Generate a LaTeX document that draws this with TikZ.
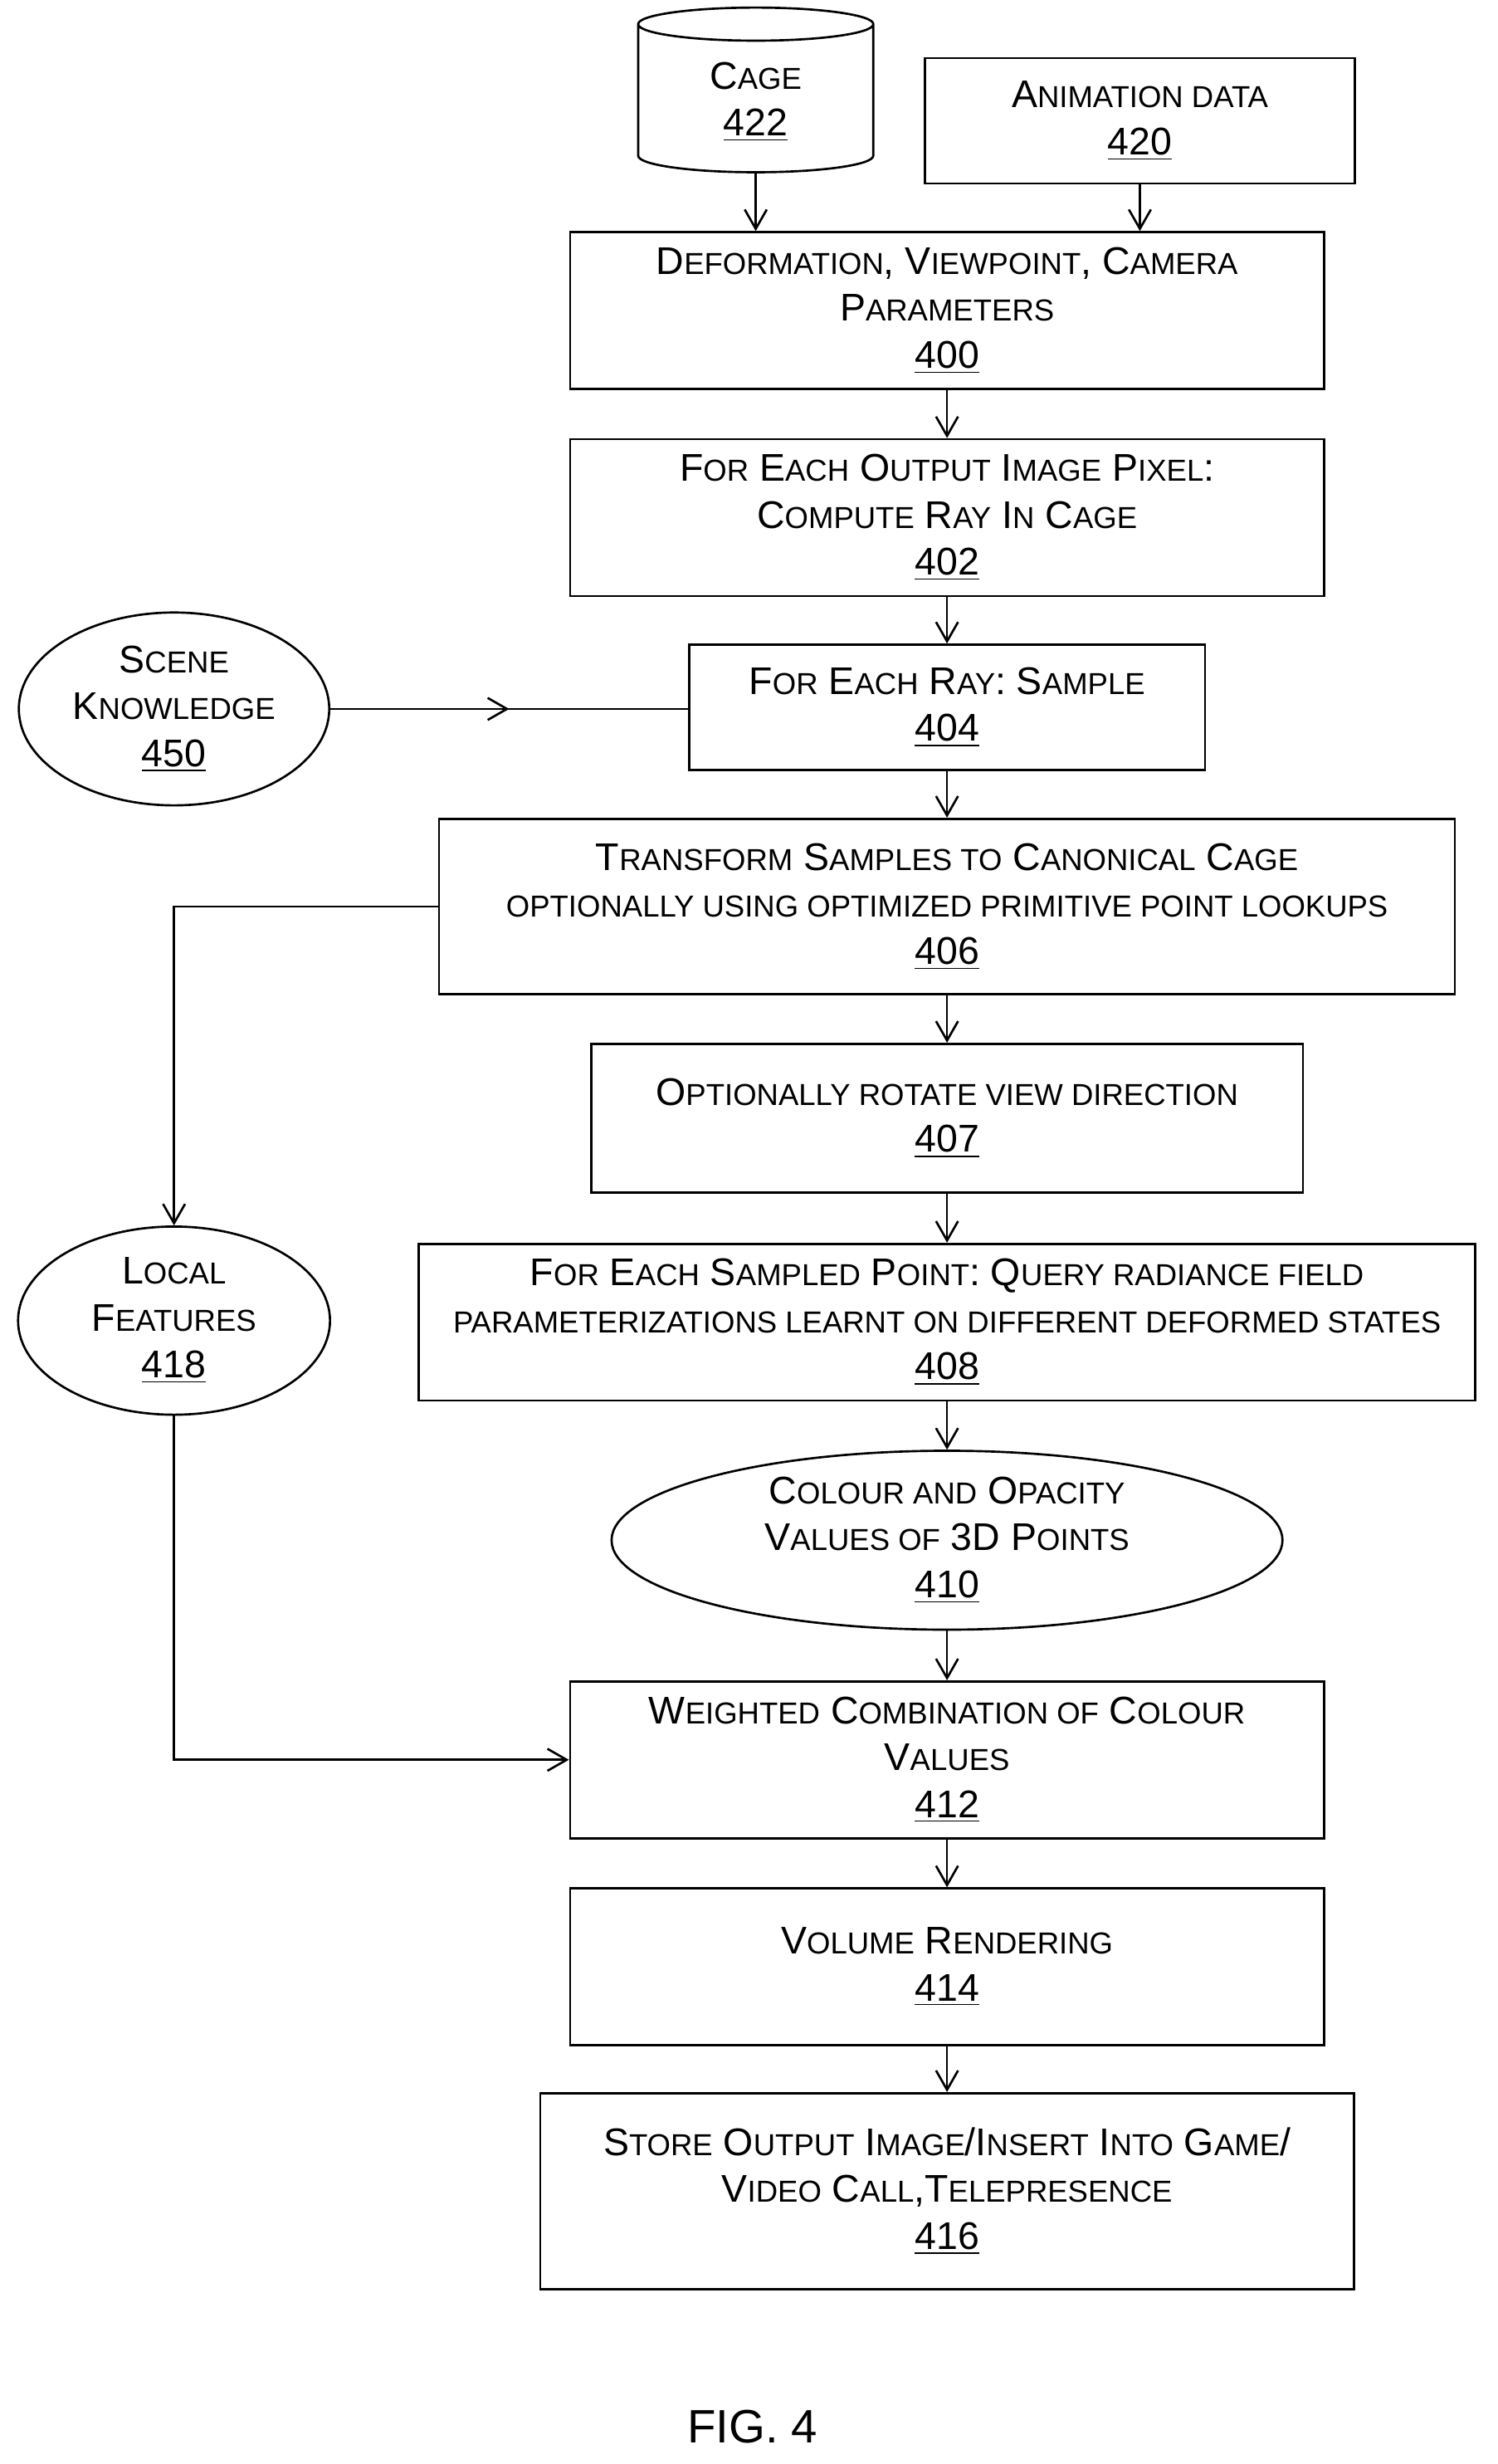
\documentclass[tikz,border=0pt]{standalone}
\usepackage{fontspec}
\setmainfont{Liberation Sans}
\usetikzlibrary{positioning,shapes.geometric,arrows.meta,decorations.markings}
\newcommand{\sm}[1]{{\fontsize{11}{17}\selectfont #1}}

\begin{document}
\begin{tikzpicture}[x=0.02cm,y=-0.02cm,
    font=\fontsize{14}{17}\selectfont,
    box/.style={draw,thick,align=center,inner sep=2pt},
    ellip/.style={draw,thick,ellipse,align=center,inner sep=0pt},
    arr/.style={-{Straight Barb[length=7pt,width=8pt]},thick},
    midarr/.style={thick,decoration={markings,mark=at position 0.5 with {\arrow{Straight Barb[length=7pt,width=8pt]}}},postaction={decorate}}]
  \useasboundingbox (0,0) rectangle (955,1571);

  % inputs
  \node[draw,thick,cylinder,shape border rotate=90,aspect=0.3,minimum width=3cm,minimum height=2.1cm,align=center] (cage) at (482,65) {C\sm{AGE}\\\underline{422}};
  \node[box,minimum width=5.48cm,minimum height=1.6cm] (anim) at (727,77) {A\sm{NIMATION DATA}\\\underline{420}};

  % main chain
  \node[box,minimum width=9.62cm,minimum height=2cm] (n400) at (604,198) {D\sm{EFORMATION}, V\sm{IEWPOINT}, C\sm{AMERA}\\P\sm{ARAMETERS}\\\underline{400}};
  \node[box,minimum width=9.62cm,minimum height=2cm] (n402) at (604,330) {F\sm{OR} E\sm{ACH} O\sm{UTPUT} I\sm{MAGE} P\sm{IXEL}:\\C\sm{OMPUTE} R\sm{AY} I\sm{N} C\sm{AGE}\\\underline{402}};
  \node[box,minimum width=6.58cm,minimum height=1.6cm] (n404) at (604,451) {F\sm{OR} E\sm{ACH} R\sm{AY}: S\sm{AMPLE}\\\underline{404}};
  \node[box,minimum width=12.96cm,minimum height=2.24cm] (n406) at (604,578) {T\sm{RANSFORM} S\sm{AMPLES TO} C\sm{ANONICAL} C\sm{AGE}\\\sm{OPTIONALLY USING OPTIMIZED PRIMITIVE POINT LOOKUPS}\\\underline{406}};
  \node[box,minimum width=9.08cm,minimum height=1.9cm] (n407) at (604,713) {O\sm{PTIONALLY ROTATE VIEW DIRECTION}\\\underline{407}};
  \node[box,minimum width=13.48cm,minimum height=2cm] (n408) at (604,843) {F\sm{OR} E\sm{ACH} S\sm{AMPLED} P\sm{OINT}: Q\sm{UERY RADIANCE FIELD}\\\sm{PARAMETERIZATIONS LEARNT ON DIFFERENT DEFORMED STATES}\\\underline{408}};
  \node[ellip,minimum width=8.56cm,minimum height=2.28cm] (n410) at (604,982) {C\sm{OLOUR AND} O\sm{PACITY}\\V\sm{ALUES OF} 3D P\sm{OINTS}\\\underline{410}};
  \node[box,minimum width=9.62cm,minimum height=2cm] (n412) at (604,1122) {W\sm{EIGHTED} C\sm{OMBINATION OF} C\sm{OLOUR}\\V\sm{ALUES}\\\underline{412}};
  \node[box,minimum width=9.62cm,minimum height=2cm] (n414) at (604,1254) {V\sm{OLUME} R\sm{ENDERING}\\\underline{414}};
  \node[box,minimum width=10.38cm,minimum height=2.5cm] (n416) at (604,1397) {S\sm{TORE} O\sm{UTPUT} I\sm{MAGE}/I\sm{NSERT} I\sm{NTO} G\sm{AME}/\\V\sm{IDEO} C\sm{ALL},T\sm{ELEPRESENCE}\\\underline{416}};

  % side inputs
  \node[ellip,minimum width=3.96cm,minimum height=2.46cm] (n450) at (111,452) {S\sm{CENE}\\K\sm{NOWLEDGE}\\\underline{450}};
  \node[ellip,minimum width=3.98cm,minimum height=2.4cm] (n418) at (111,842) {L\sm{OCAL}\\F\sm{EATURES}\\\underline{418}};

  \node (fig) at (480,1547) {\fontsize{17}{20}\selectfont FIG. 4};

  % connectors
  \draw[arr] (cage.south) -- (cage.south |- n400.north);
  \draw[arr] (anim.south) -- (anim.south |- n400.north);
  \foreach \a/\b in {n400/n402,n402/n404,n404/n406,n406/n407,n407/n408,n408/n410,n410/n412,n412/n414,n414/n416}
    \draw[arr] (\a) -- (\b);
  \draw[midarr] (n450.east) -- (n404.west |- n450.east);
  \draw[arr] (n406.west) -| (n418.north);
  \draw[arr] (n418.south) |- (n412.west);
\end{tikzpicture}
\end{document}
